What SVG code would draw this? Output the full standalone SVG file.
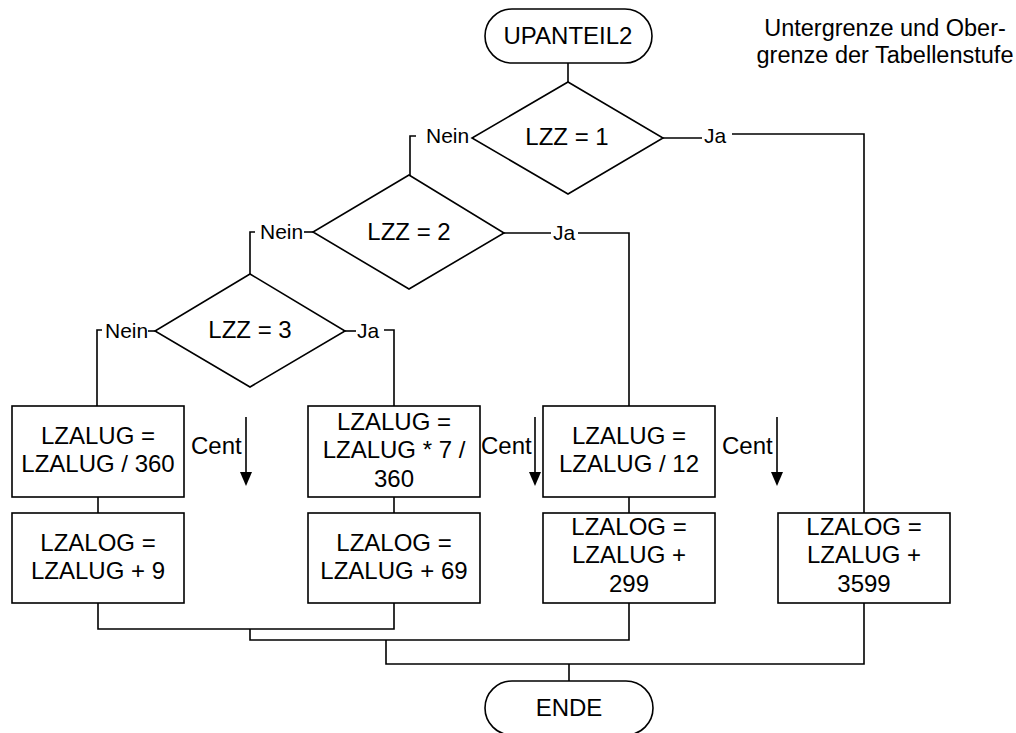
<svg xmlns="http://www.w3.org/2000/svg" width="1016" height="733" viewBox="0 0 1016 733">
<style>
.s{fill:#fff;stroke:#000;stroke-width:1.6}
.c{fill:none;stroke:#000;stroke-width:1.6}
text{font-family:"Liberation Sans",Arial,sans-serif;fill:#000}
.t{font-size:24px;text-anchor:middle}
.l{font-size:21px}
.n{font-size:23.5px;text-anchor:middle}
.cent{font-size:24px}
</style>
<defs>
<path id="ah" d="M-6,0 L6,0 L0,14 Z" fill="#000"/>
</defs>
<rect width="1016" height="733" fill="#fff"/>

<g id="connectors">
<path class="c" d="M568,63 V82"/>
<path class="c" d="M663,138 H702"/>
<path class="c" d="M732,134 H864 V513"/>
<path class="c" d="M416,136 H410 V175"/>
<path class="c" d="M304,232 H313"/>
<path class="c" d="M504,233 H551"/>
<path class="c" d="M578,233 H629 V406"/>
<path class="c" d="M255,232 H250 V274"/>
<path class="c" d="M148,331 H155"/>
<path class="c" d="M102,330 H97 V406"/>
<path class="c" d="M345,331 H356"/>
<path class="c" d="M384,330 H394 V406"/>
<path class="c" d="M98,497 V513"/>
<path class="c" d="M394,497 V513"/>
<path class="c" d="M629,497 V513"/>
<path class="c" d="M98,603 V629 H394 V603"/>
<path class="c" d="M250,629 V640 H629 V603"/>
<path class="c" d="M386,640 V664 H864 V603"/>
<path class="c" d="M569,664 V681"/>
<text class="l" x="426" y="143">Nein</text>
<text class="l" x="704" y="143">Ja</text>
<text class="l" x="260" y="239">Nein</text>
<text class="l" x="553" y="240">Ja</text>
<text class="l" x="105" y="338">Nein</text>
<text class="l" x="357" y="338">Ja</text>
</g>

<g id="start">
<rect class="s" x="485" y="9" width="167" height="54" rx="27"/>
<text class="t" x="568" y="44">UPANTEIL2</text>
</g>

<g id="d1">
<polygon class="s" points="568,82 663,138 568,194 472,138"/>
<text class="t" x="567" y="145">LZZ = 1</text>
</g>
<g id="d2">
<polygon class="s" points="409,175 504,233 409,289 313,232"/>
<text class="t" x="409" y="240">LZZ = 2</text>
</g>
<g id="d3">
<polygon class="s" points="250,274 345,331 250,387 155,331"/>
<text class="t" x="250" y="338">LZZ = 3</text>
</g>

<g id="b1">
<rect class="s" x="12" y="406" width="172" height="91"/>
<text class="t" x="98" y="444">LZALUG =</text>
<text class="t" x="98" y="472">LZALUG / 360</text>
</g>
<g id="b1b">
<rect class="s" x="12" y="513" width="172" height="90"/>
<text class="t" x="98" y="551">LZALOG =</text>
<text class="t" x="98" y="579">LZALUG + 9</text>
</g>
<g id="b2">
<rect class="s" x="308" y="406" width="172" height="91"/>
<text class="t" x="394" y="430">LZALUG =</text>
<text class="t" x="394" y="458">LZALUG * 7 /</text>
<text class="t" x="394" y="487">360</text>
</g>
<g id="b2b">
<rect class="s" x="308" y="513" width="172" height="90"/>
<text class="t" x="394" y="551">LZALOG =</text>
<text class="t" x="394" y="579">LZALUG + 69</text>
</g>
<g id="b3">
<rect class="s" x="543" y="406" width="172" height="91"/>
<text class="t" x="629" y="444">LZALUG =</text>
<text class="t" x="629" y="472">LZALUG / 12</text>
</g>
<g id="b3b">
<rect class="s" x="543" y="513" width="172" height="90"/>
<text class="t" x="629" y="535">LZALOG =</text>
<text class="t" x="629" y="563">LZALUG +</text>
<text class="t" x="629" y="592">299</text>
</g>
<g id="b4">
<rect class="s" x="778" y="513" width="172" height="90"/>
<text class="t" x="864" y="535">LZALOG =</text>
<text class="t" x="864" y="563">LZALUG +</text>
<text class="t" x="864" y="592">3599</text>
</g>

<g id="end">
<rect class="s" x="485" y="681" width="168" height="54" rx="27"/>
<text class="t" x="569" y="716">ENDE</text>
</g>

<g id="cent">
<text class="cent" x="191" y="454">Cent</text>
<path class="c" d="M246,417 V473"/>
<use href="#ah" x="246" y="472"/>
<text class="cent" x="481" y="454">Cent</text>
<path class="c" d="M535,417 V473"/>
<use href="#ah" x="535" y="472"/>
<text class="cent" x="722" y="454">Cent</text>
<path class="c" d="M777,417 V473"/>
<use href="#ah" x="777" y="472"/>
</g>

<g id="note">
<text class="n" x="885" y="36">Untergrenze und Ober-</text>
<text class="n" x="885" y="63">grenze der Tabellenstufe</text>
</g>
</svg>
